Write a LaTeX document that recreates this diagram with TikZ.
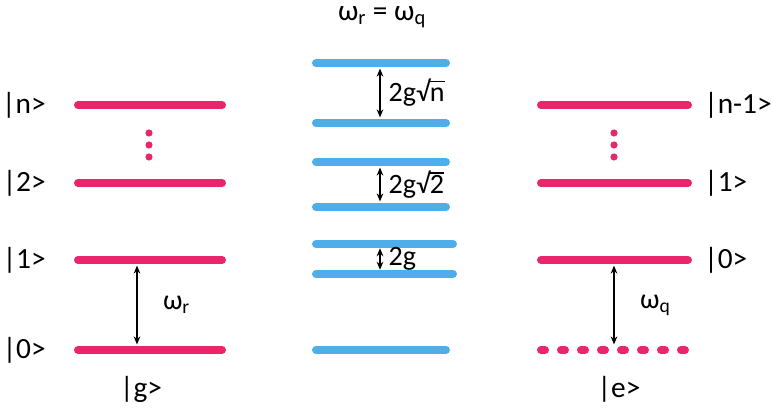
\documentclass[tikz,border=0pt]{standalone}
\usepackage{fontspec}
\setmainfont{Carlito}
\usetikzlibrary{arrows.meta, positioning, calc}
\tikzset{every node/.style={font=\fontsize{21}{24}\selectfont, inner sep=1pt}}
\definecolor{levelpink}{HTML}{E9266B}
\definecolor{levelblue}{HTML}{4FAEEA}
\newcommand{\rootbar}[1]{√\setbox0\hbox{#1}\rlap{\kern-0.05em\rule[0.7em]{\dimexpr\wd0+0.05em\relax}{0.06em}}\box0}

\begin{document}
\begin{tikzpicture}[
        x=0.75pt, y=-0.75pt,
        level/.style={line width=6pt, line cap=round},
        ket/.style={font=\fontsize{22}{25}\selectfont},
        gap/.style={<->, line width=1pt, shorten <=4.2pt, shorten >=4.2pt},
        >={Stealth[length=6pt, width=5pt]},
      ]
        \useasboundingbox (0,0) rectangle (771,413);
        % resonator ladder, qubit in |g>
        \foreach \y/\n in {105/gn, 183/g2, 260/g1, 350/g0}
          \draw[level, levelpink] (78,\y) coordinate (\n-l) -- (222,\y) coordinate (\n-r);
        \foreach \y in {133, 145, 157}
          \fill[levelpink] (149,\y) circle (3.6);
        \node[ket, left=23pt of gn-l] (kgn) {|n>};
        \node[ket, left=23pt of g2-l] (kg2) {|2>};
        \node[ket, left=23pt of g1-l] (kg1) {|1>};
        \node[ket, left=23pt of g0-l] (kg0) {|0>};
        \node[ket] (kg) at (141,389) {|g>};
        \coordinate (wr) at (137,0);
        \draw[gap] (wr |- g1-l) -- node[right=18pt] (wrlab) {ω\textsubscript{r}} (wr |- g0-l);

        % dressed levels at resonance
        \node[font=\fontsize{22}{25}\selectfont] (res) at (382,17) {ω\textsubscript{r} = ω\textsubscript{q}};
        \foreach \y/\n/\xr in {63/dn1/446, 123/dn2/446, 162/d21/446, 207/d22/446, 244/d11/453, 274/d12/453, 350/d0/446}
          \draw[level, levelblue] (316,\y) coordinate (\n-l) -- (\xr,\y) coordinate (\n-r);
        \coordinate (ds) at (380,0);
        \draw[gap] (ds |- dn1-l) -- node[right=5pt] (gn) {2g\rootbar{n}} (ds |- dn2-l);
        \draw[gap] (ds |- d21-l) -- node[right=5pt] (g2) {2g\rootbar{2}} (ds |- d22-l);
        \draw[gap, shorten <=3.2pt, shorten >=3.2pt] (ds |- d11-l) -- node[right=5pt] (g1) {2g} (ds |- d12-l);

        % resonator ladder, qubit in |e>
        \foreach \y/\n in {105/en, 183/e1, 260/e0}
          \draw[level, levelpink] (541,\y) coordinate (\n-l) -- (688,\y) coordinate (\n-r);
        \draw[level, levelpink, dash pattern=on 3pt off 12pt] (541,350) coordinate (ee-l) -- (688,350) coordinate (ee-r);
        \foreach \y in {133, 145, 157}
          \fill[levelpink] (614,\y) circle (3.6);
        \node[ket, right=11pt of en-r] (ken) {|n-1>};
        \node[ket, right=11pt of e1-r] (ke1) {|1>};
        \node[ket, right=11pt of e0-r] (ke0) {|0>};
        \node[ket] (ke) at (619,389) {|e>};
        \coordinate (wq) at (614,0);
        \draw[gap] (wq |- e0-l) -- node[right=18pt] (wqlab) {ω\textsubscript{q}} (wq |- ee-l);
      \end{tikzpicture}
\end{document}
